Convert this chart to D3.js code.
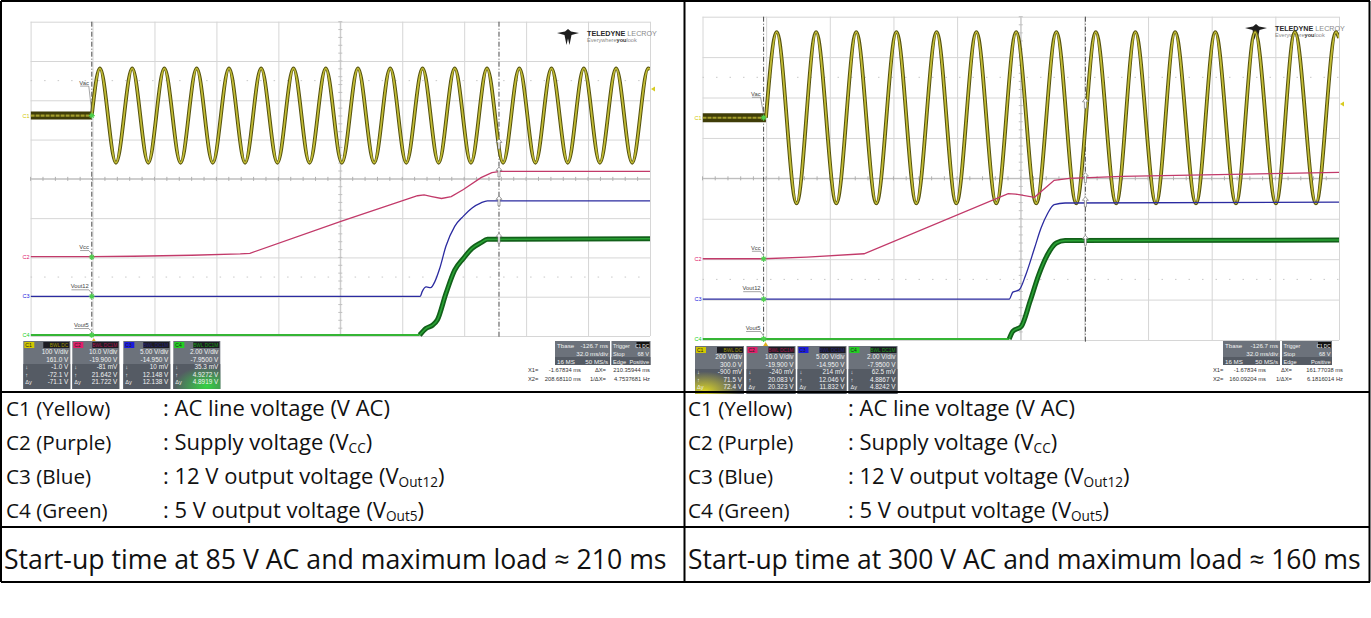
<!DOCTYPE html>
<html><head><meta charset="utf-8">
<script src="https://cdn.jsdelivr.net/npm/d3@7"></script>
<style>body{margin:0;background:#fff} svg{display:block}</style>
</head><body>
<script>
// ================= DATA =================
// time axis (ms): 10 div x 32 ms/div
const timeDomainL = [-33.3, 286.7];
const timeDomainR = [-32.4, 287.6];
const channelNames = ["C1", "C2", "C3", "C4"];
const traceLabels = ["Vac", "Vcc", "Vout12", "Vout5"];
const voltsPerDivL = [100, 10, 5, 2];
const voltsPerDivR = [200, 10, 5, 2];
const offsetL = [161, -19.9, -14.95, -7.95];
const offsetR = [300, -19.9, -14.95, -7.95];
const cursorX1 = -1.67834;
const cursorX2L = 208.6811;
const cursorX2R = 160.09204;

// AC line voltage (C1): start time, extrema times, peak amplitude
const acStartL = -1.7;
const acPeaksL = [2.5, 19.2, 35.8, 52.5, 69.2, 85.8, 102.5, 119.2, 135.8, 152.5, 169.2, 185.8, 202.5, 219.2, 235.8, 252.5, 269.2, 285.8];
const acTroughsL = [10.8, 27.5, 44.2, 60.8, 77.5, 94.2, 110.8, 127.5, 144.2, 160.8, 177.5, 194.2, 210.8, 227.5, 244.2, 260.8, 277.5];
const acAmpL = 120;
const acEndL = [286.7, 118];

const acStartR = -0.5;
const acPeaksR = [4.9, 24.7, 44.9, 65.1, 85.3, 105.3, 125.3, 145.5, 165.3, 185.2, 205.2, 225.4, 245.4, 265.4, 286.1];
const acTroughsR = [14.9, 34.9, 55.0, 75.1, 95.2, 115.3, 135.4, 155.5, 175.6, 195.6, 215.7, 235.8, 255.9, 276.0];
const acAmpR = 424;
const acEndR = [287.6, 395];

// [time ms, volts]
const vccL = [[-33.3, 0.1], [-1.7, 0.1], [20, 0.2], [50, 0.45], [75, 0.8], [80, 0.95], [127, 9.1], [166.6, 15.6], [170, 15.8], [174, 15.4], [179, 14.9], [184, 15.4], [190.3, 17.2], [199.4, 20.2], [205, 21.5], [209.4, 21.8], [286.7, 21.8]];
const vout12L = [[-33.3, 0], [168, 0], [169, 0.6], [171.1, 1.2], [173.4, 1.1], [175.6, 1.9], [178, 3.5], [181.3, 6.4], [185.8, 8.9], [190.3, 10.2], [194.8, 11.25], [199.4, 11.9], [202.7, 12.15], [286.7, 12.15]];
const vout5L = [[-33.3, 0], [167.7, 0], [171.1, 0.34], [174.5, 0.51], [176.8, 0.76], [181.3, 2.12], [185.8, 3.3], [190.3, 3.9], [194.8, 4.41], [199.4, 4.7], [202.7, 4.87], [286.7, 4.9]];

const vccR = [[-32.4, 0], [-1.7, 0], [20, 0.4], [48.8, 1.24], [121.3, 16.1], [125, 16.0], [134.5, 15.2], [141.1, 18.0], [144.4, 19.4], [152, 19.9], [178.5, 20.4], [287.6, 21.4]];
const vout12R = [[-32.4, 0], [121.8, 0], [123.6, 0.87], [126.8, 1.15], [130.1, 3.0], [134.5, 6.3], [137.8, 8.8], [141.1, 10.6], [144.4, 11.7], [149.9, 11.9], [287.6, 12.0]];
const vout5R = [[-32.4, 0], [121.8, 0], [123.6, 0.38], [127.9, 0.63], [132.3, 1.87], [136.7, 3.19], [141.1, 4.18], [145.5, 4.75], [149.9, 4.87], [287.6, 4.9]];

// channel info boxes: V/div, offset, at X1, at X2, delta
const infoL = [
  ["100 V/div", "161.0 V", "-1.0 V", "-72.1 V", "-71.1 V"],
  ["10.0 V/div", "-19.900 V", "-81 mV", "21.642 V", "21.722 V"],
  ["5.00 V/div", "-14.950 V", "10 mV", "12.148 V", "12.138 V"],
  ["2.00 V/div", "-7.9500 V", "35.3 mV", "4.9272 V", "4.8919 V"]];
const infoR = [
  ["200 V/div", "300.0 V", "-900 mV", "71.5 V", "72.4 V"],
  ["10.0 V/div", "-19.900 V", "-240 mV", "20.083 V", "20.323 V"],
  ["5.00 V/div", "-14.950 V", "214 mV", "12.046 V", "11.832 V"],
  ["2.00 V/div", "-7.9500 V", "62.5 mV", "4.8867 V", "4.8242 V"]];
const couplingLabels = ["BWL DC", "BWL DC1M", "BWL DC1M", "BWL DC1M"];
const tbaseRows = [["Tbase", "-126.7 ms"], ["", "32.0 ms/div"], ["16 MS", "50 MS/s"]];
const triggerRows = [["Trigger", "C1 DC"], ["Stop", "68 V"], ["Edge", "Positive"]];
const cursorTextL = [["X1=", "-1.67834 ms", "ΔX=", "210.35944 ms"], ["X2=", "208.68110 ms", "1/ΔX=", "4.7537681 Hz"]];
const cursorTextR = [["X1=", "-1.67834 ms", "ΔX=", "161.77038 ms"], ["X2=", "160.09204 ms", "1/ΔX=", "6.1816014 Hz"]];

const legendNames = ["C1 (Yellow)", "C2 (Purple)", "C3 (Blue)", "C4 (Green)"];
const legendDesc = [[": AC line voltage (V AC)", "", ""], [": Supply voltage (V", "CC", ")"], [": 12 V output voltage (V", "Out12", ")"], [": 5 V output voltage (V", "Out5", ")"]];
const captions = ["Start-up time at 85 V AC and maximum load ≈ 210 ms", "Start-up time at 300 V AC and maximum load ≈ 160 ms"];

// ================= DRAW =================
const W = 1371, H = 618;
const svg = d3.select("body").append("svg").attr("width", W).attr("height", H)
  .style("font-family", "'Liberation Sans', Arial, sans-serif");
const defs = svg.append("defs");
const chColor = ["#d2c800", "#e0206a", "#1a1ae0", "#22d022"];
const traceColor = ["#c9c43a", "#c23a6a", "#2b2ba0", "#2fbf3a"];

function lineGen(x, y, curve) {
  return d3.line().x(d => x(d[0])).y(d => y(d[1])).curve(curve || d3.curveMonotoneX);
}

function drawScope(cfg, idx) {
  const g = svg.append("g");
  const {x0, x1, y0, y1} = cfg;
  const x = d3.scaleLinear().domain(cfg.domain).range([x0, x1]);
  const yDiv = d3.scaleLinear().domain([-4, 4]).range([y1, y0]);
  const ys = cfg.vpd.map((v, i) => d3.scaleLinear().domain([-4 * v - cfg.off[i], 4 * v - cfg.off[i]]).range([y1, y0]));
  const step = (cfg.domain[1] - cfg.domain[0]) / 10;

  // grid via axes
  g.append("g").attr("transform", `translate(0,${y1})`)
    .call(d3.axisBottom(x).tickValues(d3.range(11).map(i => cfg.domain[0] + i * step)).tickSize(-(y1 - y0)).tickFormat(""))
    .call(a => { a.select(".domain").remove(); a.selectAll("line").attr("stroke", "#d6d6d6").attr("stroke-width", 1); });
  g.append("g").attr("transform", `translate(${x0},0)`)
    .call(d3.axisLeft(yDiv).tickValues(d3.range(-4, 5)).tickSize(-(x1 - x0)).tickFormat(""))
    .call(a => { a.select(".domain").remove(); a.selectAll("line").attr("stroke", "#d6d6d6").attr("stroke-width", 1); });
  // dotted rows
  [-2.5, 2.5].forEach(d => g.append("line").attr("x1", x0).attr("x2", x1).attr("y1", yDiv(d)).attr("y2", yDiv(d))
    .attr("stroke", "#c8c8c8").attr("stroke-dasharray", "1.5,12"));
  // center lines and minor ticks
  const cx = (x0 + x1) / 2, cy = yDiv(0);
  g.append("line").attr("x1", x0).attr("x2", x1).attr("y1", cy).attr("y2", cy).attr("stroke", "#b8b8b8");
  g.append("line").attr("x1", cx).attr("x2", cx).attr("y1", y0).attr("y2", y1).attr("stroke", "#c8c8c8");
  d3.range(0, 50).forEach(i => {
    const xx = x0 + i * (x1 - x0) / 50;
    g.append("line").attr("x1", xx).attr("x2", xx).attr("y1", cy - 2).attr("y2", cy + 2).attr("stroke", "#b0b0b0");
  });
  d3.range(0, 40).forEach(i => {
    const yy = y0 + i * (y1 - y0) / 40;
    g.append("line").attr("x1", cx - 2).attr("x2", cx + 2).attr("y1", yy).attr("y2", yy).attr("stroke", "#c0c0c0");
  });

  // logo
  const lg = g.append("g").attr("transform", `translate(${cfg.logo[0]},${cfg.logo[1]})`);
  lg.append("path").attr("d", "M0,3 L8,1.5 L11,-1 L14,1.5 L22,3 L14.5,5 L12.5,15 L11,8.5 L9.5,15 L7.5,5 Z").attr("fill", "#1e1e1e");
  const t1 = lg.append("text").attr("x", 30).attr("y", 6).attr("font-size", 7.2).attr("font-family", "'Liberation Sans Narrow','Liberation Sans',Arial");
  t1.append("tspan").attr("font-weight", "bold").attr("fill", "#2a2a2a").text("TELEDYNE");
  t1.append("tspan").attr("fill", "#8a8a8a").text(" LECROY");
  const t2 = lg.append("text").attr("x", 30).attr("y", 12).attr("font-size", 5.6).attr("fill", "#888").attr("font-family", "'Liberation Sans Narrow','Liberation Sans',Arial");
  t2.append("tspan").text("Everywhere");
  t2.append("tspan").attr("font-weight", "bold").attr("fill", "#333").text("you");
  t2.append("tspan").text("look");

  // clip
  const cid = "clip" + idx;
  defs.append("clipPath").attr("id", cid).append("rect").attr("x", x0).attr("y", y0 - 6).attr("width", x1 - x0).attr("height", y1 - y0 + 8);
  const tg = g.append("g").attr("clip-path", `url(#${cid})`);

  // cursors
  [cursorX1, cfg.x2].forEach(t => tg.append("line").attr("x1", x(t)).attr("x2", x(t)).attr("y1", y0).attr("y2", y1 + 4)
    .attr("stroke", "#4a4a4a").attr("stroke-width", 1).attr("stroke-dasharray", "5,2,1,2"));

  // C1 AC
  const ac = cfg.ac;
  const pre = [[cfg.domain[0], 0], [ac.start, 0]];
  tg.append("path").attr("d", lineGen(x, ys[0], d3.curveLinear)(pre)).attr("fill", "none").attr("stroke", "#3f3d08").attr("stroke-width", cfg.preW);
  tg.append("path").attr("d", lineGen(x, ys[0], d3.curveLinear)(pre)).attr("fill", "none").attr("stroke", "#a39d2a").attr("stroke-width", 2.2).attr("stroke-dasharray", "4,1");
  const acPts = [[ac.start, 0]]
    .concat(ac.peaks.map(t => [t, ac.amp]), ac.troughs.map(t => [t, -ac.amp]))
    .concat([ac.end]).sort((a, b) => a[0] - b[0]);
  tg.append("path").attr("d", lineGen(x, ys[0])(acPts)).attr("fill", "none").attr("stroke", "#56530f").attr("stroke-width", 3.8).attr("stroke-linejoin", "round");
  tg.append("path").attr("d", lineGen(x, ys[0])(acPts)).attr("fill", "none").attr("stroke", "#c2bc34").attr("stroke-width", 1.7);

  // C2 (linear segments), C3
  tg.append("path").attr("d", lineGen(x, ys[1], d3.curveLinear)(cfg.traces[0])).attr("fill", "none")
    .attr("stroke", traceColor[1]).attr("stroke-width", 1.3);
  tg.append("path").attr("d", lineGen(x, ys[2])(cfg.traces[1])).attr("fill", "none")
    .attr("stroke", traceColor[2]).attr("stroke-width", 1.3);
  // C4 (thin before rise, thick noisy band after)
  const v5 = cfg.traces[2];
  const riseIdx = v5.findIndex(d => d[1] > 0.3);
  const v5a = v5.slice(0, riseIdx), v5b = v5.slice(riseIdx - 1);
  tg.append("path").attr("d", lineGen(x, ys[3])(v5a)).attr("fill", "none").attr("stroke", "#35b535").attr("stroke-width", 2);
  tg.append("path").attr("d", lineGen(x, ys[3])(v5b)).attr("fill", "none").attr("stroke", "#12601a").attr("stroke-width", 5);
  tg.append("path").attr("d", lineGen(x, ys[3])(v5b)).attr("fill", "none").attr("stroke", "#2aa335").attr("stroke-width", 1.6);

  // channel tags at left edge
  channelNames.forEach((c, i) => {
    g.append("text").attr("x", x0 - 1).attr("y", ys[i](0) + 2).attr("text-anchor", "end").attr("font-size", 5.5)
      .attr("fill", chColor[i]).text(c);
  });

  // trace labels with leader lines + X1 markers
  traceLabels.forEach((lab, i) => {
    const mx = x(cursorX1), my = ys[i](0);
    const ly = my - cfg.labelDy[i];
    const tx = mx - 3;
    g.append("text").attr("x", tx).attr("y", ly).attr("text-anchor", "end").attr("font-size", 5.8).attr("fill", "#444").text(lab);
    const w = lab.length * 2.9;
    g.append("line").attr("x1", tx - w).attr("x2", tx).attr("y1", ly + 1.5).attr("y2", ly + 1.5).attr("stroke", "#666").attr("stroke-width", 0.6);
    g.append("line").attr("x1", tx).attr("x2", mx).attr("y1", ly + 1.5).attr("y2", my - 3).attr("stroke", "#666").attr("stroke-width", 0.6);
    g.append("path").attr("d", `M${mx - 3},${my}H${mx + 3}M${mx},${my - 3}V${my + 3}M${mx - 2},${my - 2}L${mx + 2},${my + 2}M${mx - 2},${my + 2}L${mx + 2},${my - 2}`)
      .attr("stroke", "#4cd04c").attr("stroke-width", 1.1);
  });
  // X2 arrow markers at the "up" cursor values
  cfg.info.forEach((row, i) => {
    const v = parseFloat(row[3]);
    const mx = x(cfg.x2), my = ys[i](v);
    g.append("path").attr("d", `M${mx},${my - 5}L${mx + 3},${my - 1.5}H${mx + 1}V${my + 5}H${mx - 1}V${my - 1.5}H${mx - 3}Z`)
      .attr("fill", "#fff").attr("stroke", "#777").attr("stroke-width", 0.7);
  });
  // trigger level marker at right and X1 marker under grid
  const trigY = ys[0](68);
  g.append("path").attr("d", `M${x1 + 1},${trigY}l4,-2.5v5z`).attr("fill", "#d8cc20");
  g.append("path").attr("d", `M${x(cursorX1) + 2},${y1 + 2}l2.5,4h-5z`).attr("fill", "#e0b020");

  // info boxes
  const fs = 6.4;
  cfg.info.forEach((rows, i) => {
    const bx = cfg.boxX[i], by = cfg.boxY, bw = cfg.boxW, bh = 48;
    const bg = g.append("g");
    bg.append("rect").attr("x", bx).attr("y", by).attr("width", bw).attr("height", bh).attr("fill", "#6c727b");
    bg.append("rect").attr("x", bx).attr("y", by + 23).attr("width", bw).attr("height", bh - 23).attr("fill", "#555b64");
    if (cfg.glow[i]) {
      const gid = `glow${idx}${i}`;
      const rg = defs.append("radialGradient").attr("id", gid).attr("cx", cfg.glow[i][0]).attr("cy", "0.9").attr("r", "0.7");
      rg.append("stop").attr("offset", "0").attr("stop-color", cfg.glow[i][1]).attr("stop-opacity", 0.9);
      rg.append("stop").attr("offset", "1").attr("stop-color", cfg.glow[i][1]).attr("stop-opacity", 0);
      bg.append("rect").attr("x", bx).attr("y", by + 20).attr("width", bw).attr("height", bh - 20).attr("fill", `url(#${gid})`);
    }
    bg.append("rect").attr("x", bx + 1).attr("y", by + 1).attr("width", 10).attr("height", 6).attr("fill", chColor[i]);
    bg.append("text").attr("x", bx + 2).attr("y", by + 6).attr("font-size", 5).attr("fill", "#222").text(channelNames[i]);
    bg.append("rect").attr("x", bx + bw - 27).attr("y", by + 1).attr("width", 26).attr("height", 6).attr("fill", "#1c1c22");
    bg.append("text").attr("x", bx + bw - 2).attr("y", by + 6).attr("text-anchor", "end").attr("font-size", 4.8)
      .attr("fill", i === 2 ? "#26267a" : d3.color(chColor[i]).darker(0.8)).text(couplingLabels[i]);
    const sym = ["", "", "↓", "↑", "Δy"];
    rows.forEach((r, j) => {
      const yy = by + 13 + j * 7.6;
      bg.append("text").attr("x", bx + bw - 2).attr("y", yy).attr("text-anchor", "end").attr("font-size", fs).attr("fill", "#f2f2f2").text(r);
      if (sym[j]) bg.append("text").attr("x", bx + 2).attr("y", yy).attr("font-size", 5.6).attr("fill", "#eee").text(sym[j]);
    });
  });

  // timebase / trigger boxes
  const tb = cfg.tb, tfs = 6.2, trfs = 5.6, cfs = 5.8;
  g.append("rect").attr("x", tb[0]).attr("y", tb[1]).attr("width", tb[2]).attr("height", 24).attr("fill", "#6c727b");
  g.append("rect").attr("x", tb[0]).attr("y", tb[1] + 16).attr("width", tb[2]).attr("height", 8).attr("fill", "#555b64");
  g.append("rect").attr("x", tb[3]).attr("y", tb[1]).attr("width", tb[4]).attr("height", 24).attr("fill", "#6c727b");
  g.append("rect").attr("x", tb[3]).attr("y", tb[1] + 16).attr("width", tb[4]).attr("height", 8).attr("fill", "#555b64");
  g.append("rect").attr("x", tb[3] + tb[4] - 14).attr("y", tb[1] + 1).attr("width", 13).attr("height", 6).attr("fill", "#111");
  tbaseRows.forEach((r, j) => {
    const yy = tb[1] + 6.5 + j * 8;
    if (r[0]) g.append("text").attr("x", tb[0] + 2).attr("y", yy).attr("font-size", tfs).attr("fill", "#f2f2f2").text(r[0]);
    g.append("text").attr("x", tb[0] + tb[2] - 2).attr("y", yy).attr("text-anchor", "end").attr("font-size", tfs).attr("fill", "#f2f2f2").text(r[1]);
  });
  triggerRows.forEach((r, j) => {
    const yy = tb[1] + 6.5 + j * 8;
    g.append("text").attr("x", tb[3] + 1.5).attr("y", yy).attr("font-size", j === 0 ? 5.4 : trfs).attr("fill", "#f2f2f2").text(r[0]);
    g.append("text").attr("x", tb[3] + tb[4] - 1.5).attr("y", yy).attr("text-anchor", "end").attr("font-size", j === 0 ? 4.6 : trfs).attr("fill", "#f2f2f2").text(r[1]);
  });
  cfg.cursorText.forEach((r, j) => {
    const yy = tb[1] + 31 + j * 9;
    const c = cfg.ctCols;
    g.append("text").attr("x", c[0]).attr("y", yy).attr("font-size", cfs).attr("fill", "#333").text(r[0]);
    g.append("text").attr("x", c[1]).attr("y", yy).attr("text-anchor", "end").attr("font-size", cfs).attr("fill", "#333").text(r[1]);
    g.append("text").attr("x", c[2]).attr("y", yy).attr("text-anchor", "end").attr("font-size", cfs).attr("fill", "#333").text(r[2]);
    g.append("text").attr("x", c[3]).attr("y", yy).attr("text-anchor", "end").attr("font-size", cfs).attr("fill", "#333").text(r[3]);
  });
}

drawScope({x0: 30.6, x1: 650, y0: 21.7, y1: 336, domain: timeDomainL, vpd: voltsPerDivL, off: offsetL,
  ac: {start: acStartL, peaks: acPeaksL, troughs: acTroughsL, amp: acAmpL, end: acEndL}, preW: 8,
  traces: [vccL, vout12L, vout5L], x2: cursorX2L, info: infoL, labelDy: [31, 8, 8, 8],
  logo: [557, 30], boxX: [23.3, 72.3, 123.3, 173.3], boxW: 47, boxY: 341, glow: [null, null, null, ["0.7", "#30e040"]],
  tb: [555, 341, 55, 611.5, 39], cursorText: cursorTextL, ctCols: [528, 581, 606, 650]}, 0);

drawScope({x0: 702.5, x1: 1339, y0: 16.7, y1: 340, domain: timeDomainR, vpd: voltsPerDivR, off: offsetR,
  ac: {start: acStartR, peaks: acPeaksR, troughs: acTroughsR, amp: acAmpR, end: acEndR}, preW: 9,
  traces: [vccR, vout12R, vout5R], x2: cursorX2R, info: infoR, labelDy: [22, 9, 9, 9],
  logo: [1245, 25], boxX: [695, 746.5, 797.5, 848.5], boxW: 49, boxY: 346, glow: [["0.2", "#e8e020"], null, null, null],
  tb: [1223, 341, 57, 1282, 50], cursorText: cursorTextR, ctCols: [1213, 1266, 1292, 1343]}, 1);

// ================= TABLE =================
const tbl = svg.append("g");
const lineC = "#000";
[[1, 1, 1370, 1], [1, 392, 1370, 392], [1, 527, 1370, 527], [1, 582, 1370, 582], [1, 1, 1, 582], [684.5, 1, 684.5, 582], [1369.5, 1, 1369.5, 582]]
  .forEach(l => tbl.append("line").attr("x1", l[0]).attr("y1", l[1]).attr("x2", l[2]).attr("y2", l[3]).attr("stroke", lineC).attr("stroke-width", 2));

const fontT = "'Open Sans', 'Noto Sans', sans-serif";
const baseY = [416, 450, 484, 518];
// fit legend font size so the first description matches the reference width (227 px)
const probe = tbl.append("text").attr("font-family", fontT).attr("font-size", 20).text(legendDesc[0][0]);
const legFs = 20 * 227 / probe.node().getComputedTextLength();
probe.remove();
[[6, 163], [688, 848]].forEach(cols => {
  legendNames.forEach((n, i) => {
    tbl.append("text").attr("x", cols[0]).attr("y", baseY[i]).attr("font-family", fontT).attr("font-size", legFs * 0.94).attr("fill", "#111").text(n);
    const t = tbl.append("text").attr("x", cols[1]).attr("y", baseY[i]).attr("font-family", fontT).attr("font-size", legFs).attr("fill", "#111");
    t.append("tspan").text(legendDesc[i][0]);
    if (legendDesc[i][1]) {
      t.append("tspan").attr("font-size", legFs * 0.62).attr("dy", 3).text(legendDesc[i][1]);
      t.append("tspan").attr("dy", -3).text(legendDesc[i][2]);
    }
  });
});
[[4, 663], [688, 673]].forEach((c, k) => {
  const t = tbl.append("text").attr("x", c[0]).attr("y", 569).attr("font-family", fontT).attr("font-size", 22).attr("fill", "#111").text(captions[k]);
  const w = t.node().getComputedTextLength();
  t.attr("font-size", 22 * c[1] / w);
});
</script>
</body></html>
